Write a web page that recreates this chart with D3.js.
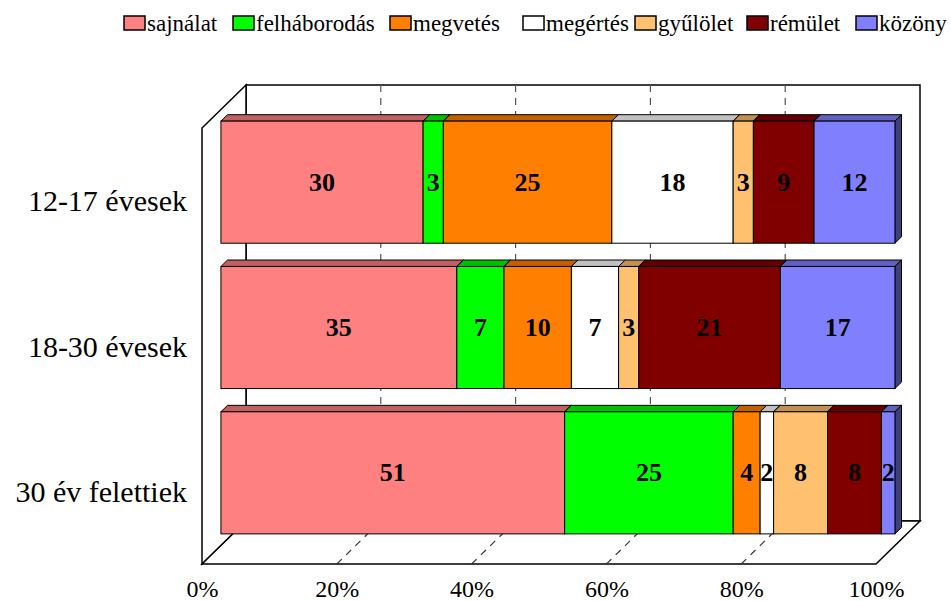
<!DOCTYPE html>
<html>
<head>
<meta charset="utf-8">
<script src="https://cdn.jsdelivr.net/npm/d3@7"></script>
<style>
  body { margin: 0; background: #fff; }
  text { font-family: 'Liberation Serif', 'Times New Roman', serif; }
</style>
</head>
<body>
<script>
var categories = ['12-17 évesek', '18-30 évesek', '30 év felettiek'];
var seriesNames = ['sajnálat', 'felháborodás', 'megvetés', 'megértés', 'gyűlölet', 'rémület', 'közöny'];
var sajnalat = [30, 35, 51];
var felhaborodas = [3, 7, 25];
var megvetes = [25, 10, 4];
var megertes = [18, 7, 2];
var gyulolet = [3, 3, 8];
var remulet = [9, 21, 8];
var kozony = [12, 17, 2];
var tickValues = [0, 20, 40, 60, 80, 100];

var seriesValues = [sajnalat, felhaborodas, megvetes, megertes, gyulolet, remulet, kozony];
var frontColors = ['#ff8080', '#00ff00', '#ff8000', '#ffffff', '#ffc070', '#800000', '#8080ff'];
var topColors = ['#c06060', '#00c000', '#c06000', '#c0c0c0', '#c09050', '#600000', '#6060c0'];
var sideColors = ['#804040', '#008000', '#804000', '#808080', '#806040', '#400000', '#404080'];

var width = 951, height = 601;
var depthX = 44, depthY = 43;     // full depth offset of the 3D box
var barZ = 0.43, barDepth = 0.15; // bar position inside the depth
var legendX = [124, 233, 390, 523, 635, 747, 856]; // legend key positions

var svg = d3.select('body').append('svg')
    .attr('width', width)
    .attr('height', height);

var x = d3.scaleLinear().domain([0, 100]).range([202, 876]);
var y = d3.scaleBand().domain(categories).range([128, 564])
    .paddingInner(0.16).paddingOuter(0.08);

// project a point at depth z (0 = front, 1 = back)
function px(v, z) { return x(v) + z * depthX; }
function py(v, z) { return v - z * depthY; }

var x0 = x(0), x1 = x(100), yTop = y.range()[0], yBot = y.range()[1];

// Walls
svg.append('rect')
    .attr('x', px(0, 1)).attr('y', py(yTop, 1))
    .attr('width', x1 - x0).attr('height', yBot - yTop)
    .attr('fill', '#fff').attr('stroke', '#000').attr('stroke-width', 1.5);

svg.append('path')
    .attr('d', 'M' + px(0, 0) + ',' + yBot + 'L' + px(0, 0) + ',' + yTop +
        'L' + px(0, 1) + ',' + py(yTop, 1) + 'L' + px(0, 1) + ',' + py(yBot, 1) + 'Z')
    .attr('fill', '#fff').attr('stroke', '#000').attr('stroke-width', 1.5);

svg.append('path')
    .attr('d', 'M' + px(0, 0) + ',' + yBot + 'L' + px(100, 0) + ',' + yBot +
        'L' + px(100, 1) + ',' + py(yBot, 1) + 'L' + px(0, 1) + ',' + py(yBot, 1) + 'Z')
    .attr('fill', '#fff').attr('stroke', '#000').attr('stroke-width', 1.5);

// Gridlines: back wall and floor
var inner = tickValues.slice(1, -1);
svg.selectAll('.gridBack').data(inner).enter().append('line')
    .attr('x1', function(d) { return px(d, 1); })
    .attr('x2', function(d) { return px(d, 1); })
    .attr('y1', py(yTop, 1))
    .attr('y2', py(yBot, 1))
    .attr('stroke', '#555').attr('stroke-width', 1.2)
    .attr('stroke-dasharray', '7,6');

svg.selectAll('.gridFloor').data(inner).enter().append('line')
    .attr('x1', function(d) { return px(d, 0); })
    .attr('y1', yBot)
    .attr('x2', function(d) { return px(d, 1); })
    .attr('y2', py(yBot, 1))
    .attr('stroke', '#333').attr('stroke-width', 1.2)
    .attr('stroke-dasharray', '7,6');

// Bars
var table = categories.map(function(c, i) {
    var row = { category: c };
    seriesNames.forEach(function(s, j) { row[s] = seriesValues[j][i]; });
    return row;
});
var stacked = d3.stack().keys(seriesNames)(table);

var zf = barZ, zb = barZ + barDepth;
categories.forEach(function(cat, ci) {
    var yt = y(cat), yb = y(cat) + y.bandwidth();
    var g = svg.append('g');
    stacked.forEach(function(layer, si) {
        var d = layer[ci];
        var a = d[0], b = d[1];
        if (b - a <= 0) return;
        // top face
        g.append('path')
            .attr('d', 'M' + px(a, zf) + ',' + py(yt, zf) + 'L' + px(b, zf) + ',' + py(yt, zf) +
                'L' + px(b, zb) + ',' + py(yt, zb) + 'L' + px(a, zb) + ',' + py(yt, zb) + 'Z')
            .attr('fill', topColors[si]).attr('stroke', '#000').attr('stroke-width', 1);
        // right side face
        g.append('path')
            .attr('d', 'M' + px(b, zf) + ',' + py(yt, zf) + 'L' + px(b, zb) + ',' + py(yt, zb) +
                'L' + px(b, zb) + ',' + py(yb, zb) + 'L' + px(b, zf) + ',' + py(yb, zf) + 'Z')
            .attr('fill', sideColors[si]).attr('stroke', '#000').attr('stroke-width', 1);
        // front face
        g.append('rect')
            .attr('x', px(a, zf)).attr('y', py(yt, zf))
            .attr('width', px(b, zf) - px(a, zf)).attr('height', yb - yt)
            .attr('fill', frontColors[si]).attr('stroke', '#000').attr('stroke-width', 1);
    });
    stacked.forEach(function(layer, si) {
        var d = layer[ci];
        if (d[1] - d[0] <= 0) return;
        g.append('text')
            .attr('x', (px(d[0], zf) + px(d[1], zf)) / 2)
            .attr('y', py((yt + yb) / 2, zf))
            .attr('text-anchor', 'middle')
            .attr('dominant-baseline', 'central')
            .style('font-size', '26px')
            .style('font-weight', 'bold')
            .attr('fill', '#000')
            .text(d[1] - d[0]);
    });
});

// Category labels
svg.selectAll('.cat').data(categories).enter().append('text')
    .attr('x', 187)
    .attr('y', function(d) { return y(d) + y.bandwidth() / 2; })
    .attr('text-anchor', 'end')
    .attr('dominant-baseline', 'central')
    .style('font-size', '30px')
    .attr('fill', '#000')
    .text(function(d) { return d; });

// Value axis
var axis = svg.append('g')
    .attr('transform', 'translate(0,' + yBot + ')')
    .call(d3.axisBottom(x).tickValues(tickValues)
        .tickFormat(function(d) { return d + '%'; })
        .tickSize(0).tickPadding(16));
axis.select('.domain').remove();
axis.selectAll('text')
    .style('font-family', "'Liberation Serif', 'Times New Roman', serif")
    .style('font-size', '24px')
    .attr('fill', '#000');

// Legend
var legend = svg.append('g');
seriesNames.forEach(function(s, i) {
    legend.append('rect')
        .attr('x', legendX[i]).attr('y', 16)
        .attr('width', 21).attr('height', 14)
        .attr('fill', frontColors[i]).attr('stroke', '#000').attr('stroke-width', 1.5);
    legend.append('text')
        .attr('x', legendX[i] + 23).attr('y', 31)
        .style('font-size', '23px')
        .attr('fill', '#000')
        .text(s);
});
</script>
</body>
</html>
